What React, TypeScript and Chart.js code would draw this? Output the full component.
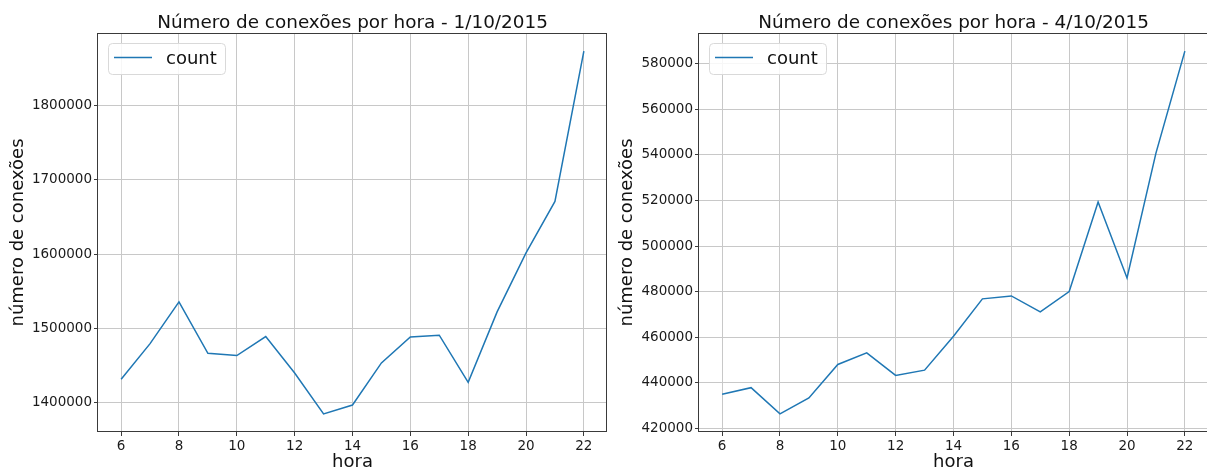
import React, { useEffect, useRef } from "react";
import { Chart, registerables } from "chart.js";

Chart.register(...registerables);

// ---------- data ----------
const hours = [6, 7, 8, 9, 10, 11, 12, 13, 14, 15, 16, 17, 18, 19, 20, 21, 22];
const countDay1 = [
  1431500, 1479500, 1535700, 1466500, 1463400, 1489000, 1440000, 1385000,
  1396900, 1453500, 1488500, 1490800, 1427400, 1522200, 1601500, 1670800, 1873000,
];
const countDay4 = [
  434900, 437800, 426300, 433300, 448000, 453100, 443200, 445500,
  460400, 476800, 478100, 471100, 480000, 519300, 486000, 540800, 585600,
];
const xTickValues = [6, 8, 10, 12, 14, 16, 18, 20, 22];
const yTicksDay1 = [1400000, 1500000, 1600000, 1700000, 1800000];
const yTicksDay4 = [420000, 440000, 460000, 480000, 500000, 520000, 540000, 560000, 580000];
const titleDay1 = "Número de conexões por hora - 1/10/2015";
const titleDay4 = "Número de conexões por hora - 4/10/2015";
const xAxisLabel = "hora";
const yAxisLabel = "número de conexões";
const seriesName = "count";

const FONT = "'DejaVu Sans', sans-serif";
const LINE_COLOR = "#1f77b4";

function paddedRange(values: number[]) {
  const mn = Math.min(...values);
  const mx = Math.max(...values);
  const m = (mx - mn) * 0.05;
  return [mn - m, mx + m];
}

type Spec = {
  values: number[];
  yTicks: number[];
  title: string;
  plotLeft: number; // relative to canvas
  padRight: number;
  yLabelX: number;
};

function makeChart(canvas: HTMLCanvasElement, spec: Spec) {
  const [xMin, xMax] = paddedRange(hours);
  const [yMin, yMax] = paddedRange(spec.values);

  const deco = {
    id: "deco",
    afterDraw(chart: any) {
      const ctx = chart.ctx as CanvasRenderingContext2D;
      const a = chart.chartArea;
      ctx.save();
      // spines
      ctx.strokeStyle = "#3a3a3a";
      ctx.lineWidth = 1;
      ctx.strokeRect(a.left - 0.5, a.top + 0.5, a.right - a.left, a.bottom - a.top - 1);
      // title
      ctx.fillStyle = "#111";
      ctx.font = `18.4px ${FONT}`;
      ctx.textAlign = "center";
      ctx.textBaseline = "alphabetic";
      ctx.fillText(spec.title, (a.left + a.right) / 2, 28);
      // x label
      ctx.font = `18px ${FONT}`;
      ctx.fillText(xAxisLabel, (a.left + a.right) / 2, 467);
      // y label
      ctx.save();
      ctx.translate(spec.yLabelX, (a.top + a.bottom) / 2);
      ctx.rotate(-Math.PI / 2);
      ctx.textBaseline = "middle";
      ctx.fillText(yAxisLabel, 0, 0);
      ctx.restore();
      // legend
      const lx = a.left + 10;
      const ly = a.top + 10;
      const lw = 117;
      const lh = 31;
      ctx.beginPath();
      (ctx as any).roundRect(lx + 0.5, ly + 0.5, lw, lh, 4);
      ctx.fillStyle = "rgba(255,255,255,0.85)";
      ctx.fill();
      ctx.strokeStyle = "#d9d9d9";
      ctx.lineWidth = 1;
      ctx.stroke();
      ctx.beginPath();
      ctx.moveTo(lx + 6, ly + 14.5);
      ctx.lineTo(lx + 44, ly + 14.5);
      ctx.strokeStyle = LINE_COLOR;
      ctx.lineWidth = 1.5;
      ctx.stroke();
      ctx.fillStyle = "#111";
      ctx.font = `18px ${FONT}`;
      ctx.textAlign = "left";
      ctx.textBaseline = "alphabetic";
      ctx.fillText(seriesName, lx + 58, ly + 21);
      ctx.restore();
    },
  };

  return new Chart(canvas, {
    type: "line",
    data: {
      datasets: [
        {
          label: seriesName,
          data: hours.map((h, i) => ({ x: h, y: spec.values[i] })),
          borderColor: LINE_COLOR,
          backgroundColor: LINE_COLOR,
          borderWidth: 1.5,
          pointRadius: 0,
          tension: 0,
          fill: false,
        },
      ],
    },
    options: {
      responsive: false,
      maintainAspectRatio: false,
      animation: false,
      events: [],
      layout: { padding: { top: 33, left: 0, right: spec.padRight, bottom: 0 } },
      plugins: {
        legend: { display: false },
        title: { display: false },
        tooltip: { enabled: false },
      },
      scales: {
        x: {
          type: "linear",
          min: xMin,
          max: xMax,
          afterBuildTicks: (s: any) => {
            s.ticks = xTickValues.map((v) => ({ value: v }));
          },
          afterFit: (s: any) => {
            s.height = 39;
          },
          grid: {
            color: "#c8c8c8",
            lineWidth: 1,
            drawTicks: true,
            tickLength: 4,
            tickColor: "#3a3a3a",
          },
          border: { display: false },
          ticks: {
            autoSkip: false,
            maxRotation: 0,
            padding: 2,
            color: "#1a1a1a",
            font: { family: FONT, size: 13.5 },
            callback: (v: any) => String(v),
          },
        },
        y: {
          type: "linear",
          min: yMin,
          max: yMax,
          afterBuildTicks: (s: any) => {
            s.ticks = spec.yTicks.map((v) => ({ value: v }));
          },
          afterFit: (s: any) => {
            s.width = spec.plotLeft;
          },
          grid: {
            color: "#c8c8c8",
            lineWidth: 1,
            drawTicks: true,
            tickLength: 4,
            tickColor: "#3a3a3a",
          },
          border: { display: false },
          ticks: {
            autoSkip: false,
            padding: 2,
            color: "#1a1a1a",
            font: { family: FONT, size: 13.5 },
            callback: (v: any) => String(v),
          },
        },
      },
    },
    plugins: [deco],
  } as any);
}

export default function App() {
  const leftRef = useRef<HTMLCanvasElement>(null);
  const rightRef = useRef<HTMLCanvasElement>(null);

  useEffect(() => {
    const c1 = makeChart(leftRef.current!, {
      values: countDay1,
      yTicks: yTicksDay1,
      title: titleDay1,
      plotLeft: 98,
      padRight: 3,
      yLabelX: 18,
    });
    const c2 = makeChart(rightRef.current!, {
      values: countDay4,
      yTicks: yTicksDay4,
      title: titleDay4,
      plotLeft: 89,
      padRight: 4,
      yLabelX: 17,
    });
    return () => {
      c1.destroy();
      c2.destroy();
    };
  }, []);

  return (
    <div
      style={{
        position: "absolute",
        left: 0,
        top: 0,
        width: 1207,
        height: 471,
        overflow: "hidden",
        background: "#fff",
      }}
    >
      <canvas
        ref={leftRef}
        width={610}
        height={471}
        style={{ position: "absolute", left: 0, top: 0, width: 610, height: 471 }}
      />
      <canvas
        ref={rightRef}
        width={602}
        height={471}
        style={{ position: "absolute", left: 610, top: 0, width: 602, height: 471 }}
      />
    </div>
  );
}
